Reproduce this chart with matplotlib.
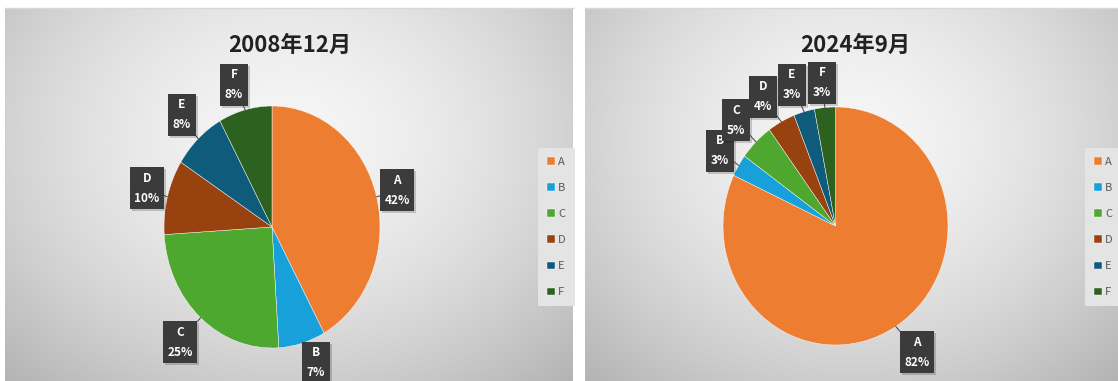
import numpy as np
import matplotlib
matplotlib.use("Agg")
import matplotlib.pyplot as plt

plt.rcParams['font.family'] = ['Noto Sans CJK SC', 'DejaVu Sans']

# data
categories = ['A', 'B', 'C', 'D', 'E', 'F']
share_2008 = [42, 7, 25, 10, 8, 8]
share_2024 = [82, 3, 5, 4, 3, 3]
titles = ['2008年12月', '2024年9月']
colors = ['#ED7D31', '#17A0DA', '#4EA72E', '#98420F', '#0E5B7C', '#2C611F']

W, H = 1118, 381

# layout in pixels (x from left, y from top)
panels = [(5, 573), (585, 1118)]
pies = [(272, 227, 108, 121), (835.5, 226, 112.5, 119)]
title_pos = [(290, 45), (855, 45)]
legend_pos = [(538, 148), (1085, 148)]
label_pos = [
    [(397, 190), (316, 363), (180, 342), (147, 188), (182, 115), (234, 85)],
    [(917, 352), (720, 151), (736, 120), (763, 97), (792, 85), (822, 83)],
]

fig = plt.figure(figsize=(W / 100, H / 100), dpi=100)

# background layer with gradients
bg = fig.add_axes([0, 0, 1, 1], zorder=0)
bg.axis('off')
for x0, x1 in panels:
    y0, y1 = 8, H
    gx, gy = np.meshgrid(np.linspace(0, 1, 300), np.linspace(0, 1, 200))
    d = np.sqrt(((gx - 0.5) / 0.62) ** 2 + ((gy - 0.35) / 0.75) ** 2)
    v = 0.965 - 0.2 * np.clip(d, 0, 1.2) ** 1.6
    bg.imshow(np.dstack([v, v, v]), extent=(x0, x1, y1, y0), aspect='auto',
              interpolation='bilinear')
    bg.plot([x0, x1], [y0, y0], color='#d8d8d8', lw=1)
bg.set_xlim(0, W)
bg.set_ylim(H, 0)

top = fig.add_axes([0, 0, 1, 1], zorder=3)
top.set_xlim(0, W)
top.set_ylim(H, 0)
top.axis('off')
top.patch.set_alpha(0)

for i, values in enumerate([share_2008, share_2024]):
    cx, cy, rx, ry = pies[i]
    ax = fig.add_axes([(cx - rx) / W, (H - cy - ry) / H, 2 * rx / W, 2 * ry / H], zorder=1)
    wedges, _ = ax.pie(values, colors=colors, startangle=90, counterclock=False,
                       wedgeprops=dict(edgecolor='white', linewidth=0.3))
    ax.set_aspect('auto')
    ax.set_xlim(-1, 1)
    ax.set_ylim(-1, 1)
    ax.axis('off')

    total = float(sum(values))
    start = 90.0
    for j, val in enumerate(values):
        mid = np.deg2rad(start - val / total * 360 / 2)
        start -= val / total * 360
        lx, ly = label_pos[i][j]
        txt = '%s\n%d%%' % (categories[j], round(val / total * 100))
        # soft shadow behind the box
        top.text(lx + 2, ly + 2, txt, ha='center', va='center', color='none',
                 fontsize=8.5, fontweight='bold', linespacing=1.7,
                 bbox=dict(boxstyle='square,pad=0.4', fc='#000000', ec='none', alpha=0.18))
        top.annotate(txt,
                     xy=(np.cos(mid), np.sin(mid)), xycoords=ax.transData,
                     xytext=(lx, ly), textcoords='data',
                     ha='center', va='center', color='white', fontsize=8.5,
                     fontweight='bold', linespacing=1.7,
                     bbox=dict(boxstyle='square,pad=0.4', fc='#3b3b3b', ec='none'),
                     arrowprops=dict(arrowstyle='-', color='#404040', lw=0.7,
                                     shrinkA=0, shrinkB=0))

    tx, ty = title_pos[i]
    top.text(tx, ty, titles[i], ha='center', va='center', fontsize=16,
             fontweight='bold', color='#222222')

    lg_x, lg_y = legend_pos[i]
    leg = ax.legend(wedges, categories, loc='upper left',
                    bbox_to_anchor=(lg_x / W, 1 - lg_y / H),
                    bbox_transform=fig.transFigure, borderaxespad=0,
                    frameon=True, fancybox=False, fontsize=8,
                    handlelength=0.7, handleheight=0.7, handletextpad=0.3,
                    labelspacing=1.45, borderpad=0.8, labelcolor='#595959')
    leg.get_frame().set_facecolor('#e4e4e4')
    leg.get_frame().set_edgecolor('none')
    leg.get_frame().set_alpha(1)

fig.savefig('out.png', dpi=100)
